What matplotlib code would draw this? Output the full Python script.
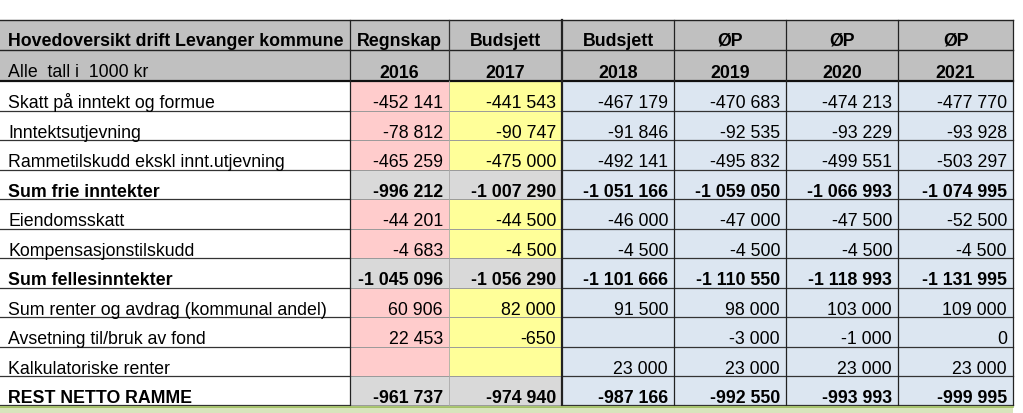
import matplotlib
matplotlib.use("Agg")
import matplotlib.pyplot as plt
from matplotlib.patches import Rectangle

plt.rcParams['font.family'] = ['Liberation Sans', 'DejaVu Sans']

title = "Hovedoversikt drift Levanger kommune"
subtitle = "Alle  tall i  1000 kr"
col_kinds = ["Regnskap", "Budsjett", "Budsjett", "ØP", "ØP", "ØP"]
col_years = ["2016", "2017", "2018", "2019", "2020", "2021"]

labels = ["Skatt på inntekt og formue", "Inntektsutjevning",
          "Rammetilskudd ekskl innt.utjevning", "Sum frie inntekter",
          "Eiendomsskatt", "Kompensasjonstilskudd", "Sum fellesinntekter",
          "Sum renter og avdrag (kommunal andel)", "Avsetning til/bruk av fond",
          "Kalkulatoriske renter", "REST NETTO RAMME"]
bold_rows = [3, 6, 10]

v2016 = [-452141, -78812, -465259, -996212, -44201, -4683, -1045096, 60906, 22453, None, -961737]
v2017 = [-441543, -90747, -475000, -1007290, -44500, -4500, -1056290, 82000, -650, None, -974940]
v2018 = [-467179, -91846, -492141, -1051166, -46000, -4500, -1101666, 91500, None, 23000, -987166]
v2019 = [-470683, -92535, -495832, -1059050, -47000, -4500, -1110550, 98000, -3000, 23000, -992550]
v2020 = [-474213, -93229, -499551, -1066993, -47500, -4500, -1118993, 103000, -1000, 23000, -993993]
v2021 = [-477770, -93928, -503297, -1074995, -52500, -4500, -1131995, 109000, 0, 23000, -999995]
columns = [v2016, v2017, v2018, v2019, v2020, v2021]

W, H = 1023, 414
fig = plt.figure(figsize=(W / 100, H / 100), dpi=100)
ax = fig.add_axes([0, 0, 1, 1])
ax.set_xlim(0, W)
ax.set_ylim(H, 0)
ax.axis('off')

xb = [0, 350, 449, 562, 674, 786, 898, 1013]
y_top, y_h1, y_h2 = 20.5, 50.5, 82.0
rh = 29.5
ybs = [y_h2 + i * rh for i in range(len(labels) + 1)]

hdr_gray = '#C0C0C0'
sum_gray = '#D9D9D9'
col_fill = ['#FFCCCC', '#FFFF99', '#DCE6F1', '#DCE6F1', '#DCE6F1', '#DCE6F1']
fs = 12.8
pad_b = 3.0


def fmt(v):
    if v is None:
        return ""
    s = f"{abs(v):,}".replace(",", " ")
    return ("-" if v < 0 else "") + s

# header
ax.add_patch(Rectangle((xb[0], y_top), xb[-1] - xb[0], y_h2 - y_top, fc=hdr_gray, ec='none'))
ax.text(8, y_h1 - 5, title, fontsize=fs, fontweight='bold', ha='left', va='baseline')
ax.text(8, y_h2 - 5, subtitle, fontsize=fs, ha='left', va='baseline')
for j in range(6):
    xc = (xb[j + 1] + xb[j + 2]) / 2
    ax.text(xc, y_h1 - 4.5, col_kinds[j], fontsize=fs, fontweight='bold', ha='center', va='baseline')
    ax.text(xc, y_h2 - 4, col_years[j], fontsize=fs, fontweight='bold', ha='center', va='baseline')

# body cells
for i, lab in enumerate(labels):
    y0, y1 = ybs[i], ybs[i + 1]
    bold = i in bold_rows
    ax.text(8, y1 - pad_b, lab, fontsize=fs, fontweight='bold' if bold else 'normal',
            ha='left', va='baseline')
    for j, vals in enumerate(columns):
        x0, x1 = xb[j + 1], xb[j + 2]
        fc = sum_gray if (bold and j < 2) else col_fill[j]
        ax.add_patch(Rectangle((x0, y0), x1 - x0, y1 - y0, fc=fc, ec='none'))
        ax.text(x1 - 6, y1 - pad_b, fmt(vals[i]), fontsize=fs,
                fontweight='bold' if bold else 'normal', ha='right', va='baseline')

# grid lines
y_end = ybs[-1]
ax.plot([xb[0], xb[-1]], [y_top, y_top], color='#222222', lw=1.0)
ax.plot([xb[0], xb[-1]], [y_h1, y_h1], color='#222222', lw=1.0)
ax.plot([xb[0], xb[-1]], [y_h2, y_h2], color='#111111', lw=1.6)
for yb in ybs[1:]:
    ax.plot([xb[0], xb[1]], [yb, yb], color='#333333', lw=0.9)
    ax.plot([xb[1], xb[3]], [yb, yb], color='#9a9a9a', lw=0.7)
    ax.plot([xb[3], xb[-1]], [yb, yb], color='#333333', lw=0.9)
for k, x in enumerate(xb[1:]):
    if k == 1:
        ax.plot([x, x], [y_top, y_h2], color='#333333', lw=0.9)
        ax.plot([x, x], [y_h2, y_end], color='#aaaaaa', lw=0.6)
    else:
        lw = 1.6 if k == 2 else 0.9
        ax.plot([x, x], [y_top, y_end], color='#222222', lw=lw)

# bottom green strip
ax.add_patch(Rectangle((xb[0], y_end + 1.5), xb[-1] - xb[0], H - y_end, fc='#D8E4BC', ec='none'))
ax.plot([xb[0], xb[-1]], [y_end + 2, y_end + 2], color='#9BBB59', lw=1.2)

fig.savefig('out.png', dpi=100)
